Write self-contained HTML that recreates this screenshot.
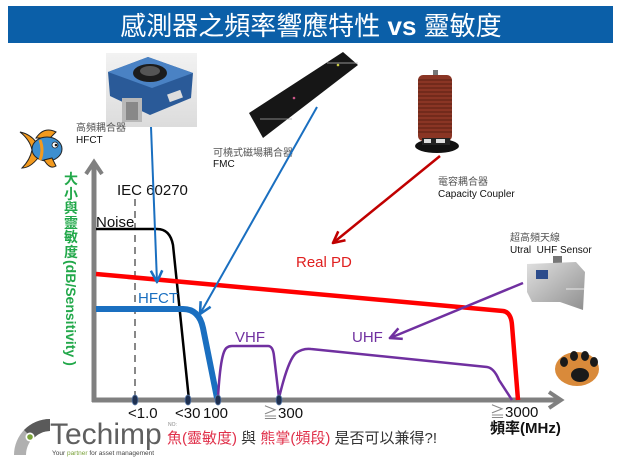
<!DOCTYPE html>
<html><head><meta charset="utf-8">
<style>
html,body{margin:0;padding:0;background:#fff;}
body{width:624px;height:460px;position:relative;overflow:hidden;font-family:"Liberation Sans","Noto Sans CJK TC",sans-serif;}
svg{position:absolute;left:0;top:0;}
.ycjk{position:absolute;left:64px;top:172px;width:14px;font-family:"Noto Sans CJK TC","Liberation Sans",sans-serif;font-size:14px;color:#22a84a;font-weight:bold;}
.ycjk span{display:block;height:14.5px;line-height:14.5px;text-align:center;}
.ylat{position:absolute;left:79px;top:260px;width:110px;height:16px;line-height:16px;font-family:"Liberation Sans",sans-serif;font-size:14px;font-weight:bold;color:#22a84a;white-space:pre;transform-origin:0 0;transform:rotate(90deg);}
</style></head><body>
<svg width="624" height="460" viewBox="0 0 624 460" font-family="Liberation Sans, Noto Sans CJK TC, sans-serif">
<defs>
<marker id="mb" markerUnits="userSpaceOnUse" markerWidth="14" markerHeight="14" refX="10" refY="5" orient="auto" viewBox="0 0 11 10"><path d="M1,0.5 L10,5 L1,9.5" fill="none" stroke="#1a6fc0" stroke-width="2"/></marker>
<marker id="mr" markerUnits="userSpaceOnUse" markerWidth="14" markerHeight="14" refX="10" refY="5" orient="auto" viewBox="0 0 11 10"><path d="M1,0.5 L10,5 L1,9.5" fill="none" stroke="#c00000" stroke-width="2"/></marker>
<marker id="mp" markerUnits="userSpaceOnUse" markerWidth="14" markerHeight="14" refX="10" refY="5" orient="auto" viewBox="0 0 11 10"><path d="M1,0.5 L10,5 L1,9.5" fill="none" stroke="#7030a0" stroke-width="2"/></marker>
<linearGradient id="silver" x1="0" y1="0" x2="1" y2="1"><stop offset="0" stop-color="#e0e0e0"/><stop offset="1" stop-color="#8f8f8f"/></linearGradient>
<linearGradient id="bg1" x1="0" y1="0" x2="0" y2="1"><stop offset="0" stop-color="#f2f2f2"/><stop offset="1" stop-color="#dcdcdc"/></linearGradient>
</defs>

<!-- Title bar -->
<rect x="8" y="6" width="605" height="37" fill="#0b5fa8"/>
<text x="311" y="35" font-size="26" fill="#fff" text-anchor="middle">感測器之頻率響應特性 <tspan font-weight="bold">vs</tspan> 靈敏度</text>

<!-- HFCT image -->
<rect x="106" y="53" width="91" height="74" fill="url(#bg1)"/>
<polygon points="108,72 148,57 193,73 191,98 150,115 110,96" fill="#2a5a98"/>
<polygon points="108,72 148,57 193,73 152,88" fill="#4a82c4"/>
<ellipse cx="150" cy="73" rx="17" ry="9" fill="#1c1c1c"/>
<ellipse cx="150" cy="71" rx="10" ry="5" fill="#555"/>
<rect x="168" y="92" width="14" height="8" fill="#ddd" transform="rotate(-20 175 96)"/>
<rect x="122" y="98" width="20" height="24" fill="#b8b8b8"/>
<rect x="126" y="102" width="12" height="18" fill="#888"/>

<!-- Fish -->
<g>
<path d="M20,132 Q30,140 32,150 Q30,160 22,168 Q30,168 38,158 L36,142 Q30,134 20,132 Z" fill="#f39a1e" stroke="#222" stroke-width="1"/>
<path d="M36,138 Q44,126 56,132 L50,138 Z" fill="#f39a1e" stroke="#222" stroke-width="1"/>
<ellipse cx="47" cy="149" rx="15" ry="12" fill="#3d8fd0" stroke="#222" stroke-width="1"/>
<path d="M40,140 Q44,150 40,160" fill="none" stroke="#f39a1e" stroke-width="3"/>
<path d="M44,160 Q50,170 56,166 L52,158 Z" fill="#f39a1e" stroke="#222" stroke-width="1"/>
<circle cx="55" cy="145" r="3" fill="#fff" stroke="#222" stroke-width="0.8"/>
<circle cx="56" cy="145" r="1.3" fill="#111"/>
</g>

<!-- labels for devices -->
<text x="76" y="131" font-size="10" fill="#555">高頻耦合器</text>
<text x="76" y="143" font-size="10" fill="#111">HFCT</text>

<!-- FMC -->
<polygon points="249,113 343,52 358,65 263,138" fill="#161616"/>
<circle cx="338" cy="65" r="1.3" fill="#cc4"/>
<circle cx="294" cy="98" r="1.3" fill="#c58"/>
<line x1="327" y1="63" x2="358" y2="63" stroke="#bbb" stroke-width="0.7"/>
<line x1="260" y1="119" x2="292" y2="119" stroke="#aaa" stroke-width="0.7"/>
<text x="213" y="156" font-size="10" fill="#555">可橈式磁場耦合器</text>
<text x="213" y="167" font-size="10" fill="#111">FMC</text>

<!-- Capacity coupler -->
<rect x="433" y="70" width="5" height="6" fill="#777"/>
<rect x="418" y="75" width="34" height="66" rx="5" fill="#8a3524"/>
<g stroke="#5a1e12" stroke-width="1">
<line x1="418" y1="80" x2="452" y2="80"/><line x1="418" y1="84" x2="452" y2="84"/><line x1="418" y1="88" x2="452" y2="88"/>
<line x1="418" y1="92" x2="452" y2="92"/><line x1="418" y1="96" x2="452" y2="96"/><line x1="418" y1="100" x2="452" y2="100"/>
<line x1="418" y1="104" x2="452" y2="104"/><line x1="418" y1="108" x2="452" y2="108"/><line x1="418" y1="112" x2="452" y2="112"/>
<line x1="418" y1="116" x2="452" y2="116"/><line x1="418" y1="120" x2="452" y2="120"/><line x1="418" y1="124" x2="452" y2="124"/>
<line x1="418" y1="128" x2="452" y2="128"/><line x1="418" y1="132" x2="452" y2="132"/>
</g>
<ellipse cx="437" cy="146" rx="22" ry="7" fill="#111"/>
<rect x="422" y="138" width="28" height="7" fill="#222"/>
<rect x="424" y="139" width="7" height="4" fill="#ddd"/>
<rect x="436" y="139" width="9" height="4" fill="#ddd"/>
<text x="438" y="185" font-size="10" fill="#555">電容耦合器</text>
<text x="438" y="197" font-size="10" fill="#111">Capacity Coupler</text>

<!-- UHF sensor -->
<text x="510" y="241" font-size="10" fill="#555">超高頻天線</text>
<text x="510" y="253" font-size="10" fill="#111" xml:space="preserve">Utral  UHF Sensor</text>
<rect x="553" y="256" width="9" height="8" fill="#777"/>
<polygon points="527,264 576,262 585,272 583,310 560,302 532,302 527,292" fill="url(#silver)"/>
<rect x="536" y="270" width="12" height="9" fill="#2c4c8c"/>
<line x1="566" y1="289" x2="584" y2="289" stroke="#fff" stroke-width="0.7"/>

<!-- Paw -->
<ellipse cx="577" cy="369" rx="22" ry="17" fill="#d98a3a"/>
<ellipse cx="580" cy="375" rx="9" ry="7" fill="#1a1a1a"/>
<ellipse cx="564" cy="362" rx="4" ry="5" fill="#1a1a1a"/>
<ellipse cx="574" cy="356" rx="4" ry="5" fill="#1a1a1a"/>
<ellipse cx="585" cy="356" rx="4" ry="5" fill="#1a1a1a"/>
<ellipse cx="594" cy="362" rx="4" ry="5" fill="#1a1a1a"/>

<!-- Axes -->
<g stroke="#808080" stroke-width="5" fill="none">
<line x1="94" y1="402" x2="94" y2="164"/>
<polyline points="86,174 94,162 102,174" stroke-width="4"/>
<line x1="92" y1="400" x2="558" y2="400"/>
<polyline points="549,392 561,400 549,408" stroke-width="4"/>
</g>

<!-- IEC dashed -->
<line x1="135" y1="199" x2="135" y2="397" stroke="#888" stroke-width="2" stroke-dasharray="7,5"/>
<text x="117" y="195" font-size="15" fill="#111">IEC 60270</text>

<!-- Noise -->
<path d="M96,229 L157,229 Q170,229 173,245 L189,400" fill="none" stroke="#000" stroke-width="2.5"/>
<text x="96" y="227" font-size="15" fill="#111">Noise</text>

<!-- Real PD red -->
<path d="M96,274 L503,311 Q511,312 512,325 L518,400" fill="none" stroke="#ff0000" stroke-width="4.5"/>

<!-- HFCT blue -->
<path d="M96,309 L183,309 Q199,309 203,328 L217,398" fill="none" stroke="#1a6fc0" stroke-width="6"/>
<text x="138" y="303" font-size="15" fill="#1a6fc0">HFCT</text>

<!-- VHF/UHF purple -->
<path d="M218,398 Q220,362 224,352 Q226,346 232,346 L268,346 Q273,346 274,356 L279,398 Q288,360 296,353 Q303,348 311,349 L487,367 Q494,368 499,380 L512,400" fill="none" stroke="#7030a0" stroke-width="2.5"/>
<text x="235" y="342" font-size="15" fill="#7030a0">VHF</text>
<text x="352" y="342" font-size="15" fill="#7030a0">UHF</text>
<text x="296" y="267" font-size="15" fill="#e02020">Real PD</text>

<!-- Arrows -->
<line x1="151" y1="127" x2="157" y2="282" stroke="#1a6fc0" stroke-width="2" marker-end="url(#mb)"/>
<line x1="317" y1="107" x2="200" y2="314" stroke="#1a6fc0" stroke-width="2" marker-end="url(#mb)"/>
<line x1="440" y1="156" x2="333" y2="243" stroke="#c00000" stroke-width="2.5" marker-end="url(#mr)"/>
<line x1="523" y1="283" x2="390" y2="338" stroke="#7030a0" stroke-width="2.5" marker-end="url(#mp)"/>

<!-- Tick markers -->
<g fill="#1f3050" stroke="#5a7aa8" stroke-width="0.8">
<ellipse cx="135" cy="400" rx="3" ry="5"/>
<ellipse cx="188" cy="400" rx="3" ry="5"/>
<ellipse cx="218" cy="400" rx="3" ry="5"/>
<ellipse cx="279" cy="400" rx="3" ry="5"/>
</g>

<!-- Tick labels -->
<g font-size="15" fill="#111">
<text x="128" y="418">&lt;1.0</text>
<text x="175" y="418">&lt;30</text>
<text x="203" y="418">100</text>
<text x="263" y="418"><tspan fill="#888">≧</tspan>300</text>
<text x="490" y="417"><tspan fill="#888">≧</tspan>3000</text>
<text x="490" y="433" font-weight="bold">頻率(MHz)</text>
</g>

<!-- Logo -->
<path d="M50,419 A36,36 0 0 0 14,455 L26,455 A24,24 0 0 1 50,431 Z" fill="#b0b0b0"/>
<path d="M50,419 A36,36 0 0 0 24,430 L33,439 A24,24 0 0 1 50,431 Z" fill="#5a5a5a"/>
<circle cx="30" cy="437" r="4.5" fill="#fff"/>
<circle cx="30" cy="437" r="2.8" fill="#7aa23a"/>
<text x="50" y="444" font-size="30" fill="#5f5f5f">Techimp</text>
<text x="52" y="455" font-size="6.5" fill="#444">Your <tspan fill="#7aa23a">partner</tspan> for asset management</text>
<text x="168" y="426" font-size="5" fill="#888">NO:</text>

<!-- Bottom question -->
<text x="167" y="443" font-size="15" fill="#333"><tspan fill="#e0304a">魚(靈敏度)</tspan> 與 <tspan fill="#e0304a">熊掌(頻段)</tspan> 是否可以兼得?!</text>
</svg>
<div class="ycjk"><span>大</span><span>小</span><span>與</span><span>靈</span><span>敏</span><span>度</span></div>
<div class="ylat">(dB/Sensitivity )</div>
</body></html>
